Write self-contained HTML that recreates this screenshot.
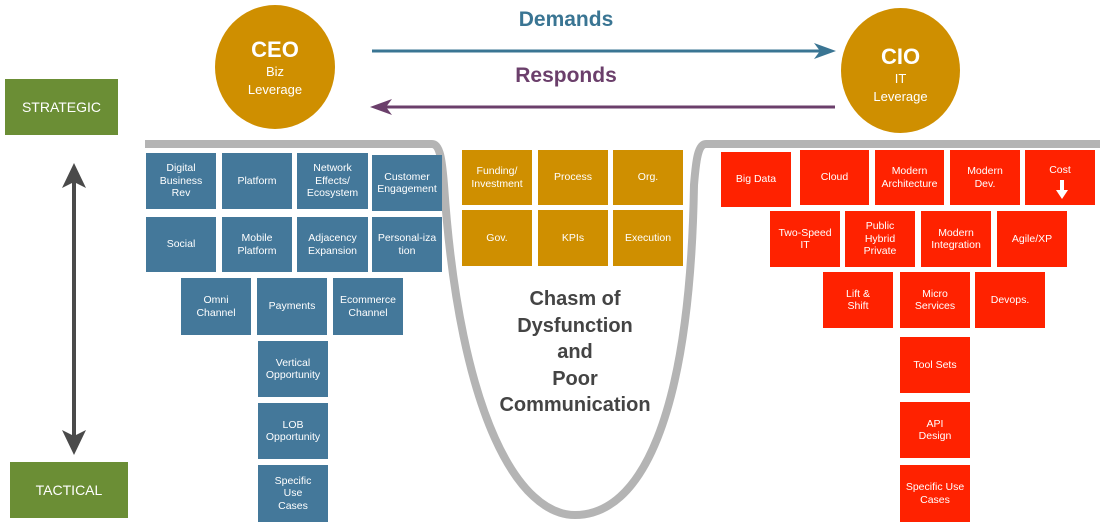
<!DOCTYPE html>
<html><head><meta charset="utf-8"><style>
body{margin:0;width:1100px;height:522px;overflow:hidden;background:#fff;font-family:"Liberation Sans",sans-serif;position:relative}
.b{position:absolute;display:flex;align-items:center;justify-content:center;text-align:center;color:#fff;font-size:10.5px;line-height:12.5px;box-sizing:border-box;padding:0 1px;white-space:nowrap}
.bl{background:#44789a}.or{background:#cf8f00}.rd{background:#ff2200}
.g{position:absolute;background:#6b8e35;color:#fff;font-size:14px;display:flex;align-items:center;justify-content:center}
.c{position:absolute;border-radius:50%;background:#cf8f00;color:#fff;text-align:center;box-sizing:border-box}
.t{position:absolute;font-weight:bold;text-align:center}
</style></head><body>
<svg width="1100" height="522" style="position:absolute;left:0;top:0">
<path d="M145 144 H432 C440 144 442 160 444 185 C460 420 520 515 575 515 C640 515 690 420 694 185 C696 160 698 144 706 144 H1100" fill="none" stroke="#b4b4b4" stroke-width="8"/>
<line x1="372" y1="51" x2="826" y2="51" stroke="#3a7593" stroke-width="3"/>
<path d="M836 51 L814 43 L820 51 L814 59 Z" fill="#3a7593"/>
<line x1="380" y1="107" x2="835" y2="107" stroke="#6b3f6b" stroke-width="3"/>
<path d="M370 107 L392 99 L386 107 L392 115 Z" fill="#6b3f6b"/>
<line x1="74" y1="180" x2="74" y2="440" stroke="#4a4a4a" stroke-width="4"/>
<path d="M74 163 L62 188 L74 182 L86 188 Z" fill="#4a4a4a"/>
<path d="M74 455 L62 430 L74 436 L86 430 Z" fill="#4a4a4a"/>
</svg>
<div class="g" style="left:5px;top:79px;width:113px;height:56px">STRATEGIC</div>
<div class="g" style="left:10px;top:462px;width:118px;height:56px">TACTICAL</div>
<div class="c" style="left:215px;top:5px;width:120px;height:124px;padding-top:32px"><div style="font-size:22px;font-weight:bold">CEO</div><div style="font-size:13px;line-height:18px">Biz<br>Leverage</div></div>
<div class="c" style="left:841px;top:8px;width:119px;height:125px;padding-top:36px"><div style="font-size:22px;font-weight:bold">CIO</div><div style="font-size:13px;line-height:18px">IT<br>Leverage</div></div>
<div class="t" style="left:466px;top:8px;width:200px;font-size:21px;color:#3a7593">Demands</div>
<div class="t" style="left:466px;top:64px;width:200px;font-size:21px;color:#6b3f6b">Responds</div>
<div class="t" style="left:475px;top:286px;width:200px;font-size:20px;line-height:26.5px;color:#444">Chasm of<br>Dysfunction<br>and<br>Poor<br>Communication</div>

<div class="b bl" style="left:146px;top:153px;width:70px;height:56px">Digital<br>Business<br>Rev</div>
<div class="b bl" style="left:222px;top:153px;width:70px;height:56px">Platform</div>
<div class="b bl" style="left:297px;top:153px;width:71px;height:56px">Network<br>Effects/<br>Ecosystem</div>
<div class="b bl" style="left:372px;top:155px;width:70px;height:56px">Customer<br>Engagement</div>
<div class="b bl" style="left:146px;top:217px;width:70px;height:55px">Social</div>
<div class="b bl" style="left:222px;top:217px;width:70px;height:55px">Mobile<br>Platform</div>
<div class="b bl" style="left:297px;top:217px;width:71px;height:55px">Adjacency<br>Expansion</div>
<div class="b bl" style="left:372px;top:217px;width:70px;height:55px">Personal-iza<br>tion</div>
<div class="b bl" style="left:181px;top:278px;width:70px;height:57px">Omni<br>Channel</div>
<div class="b bl" style="left:257px;top:278px;width:70px;height:57px">Payments</div>
<div class="b bl" style="left:333px;top:278px;width:70px;height:57px">Ecommerce<br>Channel</div>
<div class="b bl" style="left:258px;top:341px;width:70px;height:56px">Vertical<br>Opportunity</div>
<div class="b bl" style="left:258px;top:403px;width:70px;height:56px">LOB<br>Opportunity</div>
<div class="b bl" style="left:258px;top:465px;width:70px;height:57px">Specific<br>Use<br>Cases</div>

<div class="b or" style="left:462px;top:150px;width:70px;height:55px">Funding/<br>Investment</div>
<div class="b or" style="left:538px;top:150px;width:70px;height:55px">Process</div>
<div class="b or" style="left:613px;top:150px;width:70px;height:55px">Org.</div>
<div class="b or" style="left:462px;top:210px;width:70px;height:56px">Gov.</div>
<div class="b or" style="left:538px;top:210px;width:70px;height:56px">KPIs</div>
<div class="b or" style="left:613px;top:210px;width:70px;height:56px">Execution</div>

<div class="b rd" style="left:721px;top:152px;width:70px;height:55px">Big Data</div>
<div class="b rd" style="left:800px;top:150px;width:69px;height:55px">Cloud</div>
<div class="b rd" style="left:875px;top:150px;width:69px;height:55px">Modern<br>Architecture</div>
<div class="b rd" style="left:950px;top:150px;width:70px;height:55px">Modern<br>Dev.</div>
<div class="b rd" style="left:1025px;top:150px;width:70px;height:55px;align-items:flex-start;padding-top:14px">Cost</div>
<svg width="14" height="20" style="position:absolute;left:1055px;top:180px"><path d="M5 0 H9 V10 H13 L7 19 L1 10 H5 Z" fill="#fff"/></svg>
<div class="b rd" style="left:770px;top:211px;width:70px;height:56px">Two-Speed<br>IT</div>
<div class="b rd" style="left:845px;top:211px;width:70px;height:56px">Public<br>Hybrid<br>Private</div>
<div class="b rd" style="left:921px;top:211px;width:70px;height:56px">Modern<br>Integration</div>
<div class="b rd" style="left:997px;top:211px;width:70px;height:56px">Agile/XP</div>
<div class="b rd" style="left:823px;top:272px;width:70px;height:56px">Lift &amp;<br>Shift</div>
<div class="b rd" style="left:900px;top:272px;width:70px;height:56px">Micro<br>Services</div>
<div class="b rd" style="left:975px;top:272px;width:70px;height:56px">Devops.</div>
<div class="b rd" style="left:900px;top:337px;width:70px;height:56px">Tool Sets</div>
<div class="b rd" style="left:900px;top:402px;width:70px;height:56px">API<br>Design</div>
<div class="b rd" style="left:900px;top:465px;width:70px;height:57px">Specific Use<br>Cases</div>
</body></html>
